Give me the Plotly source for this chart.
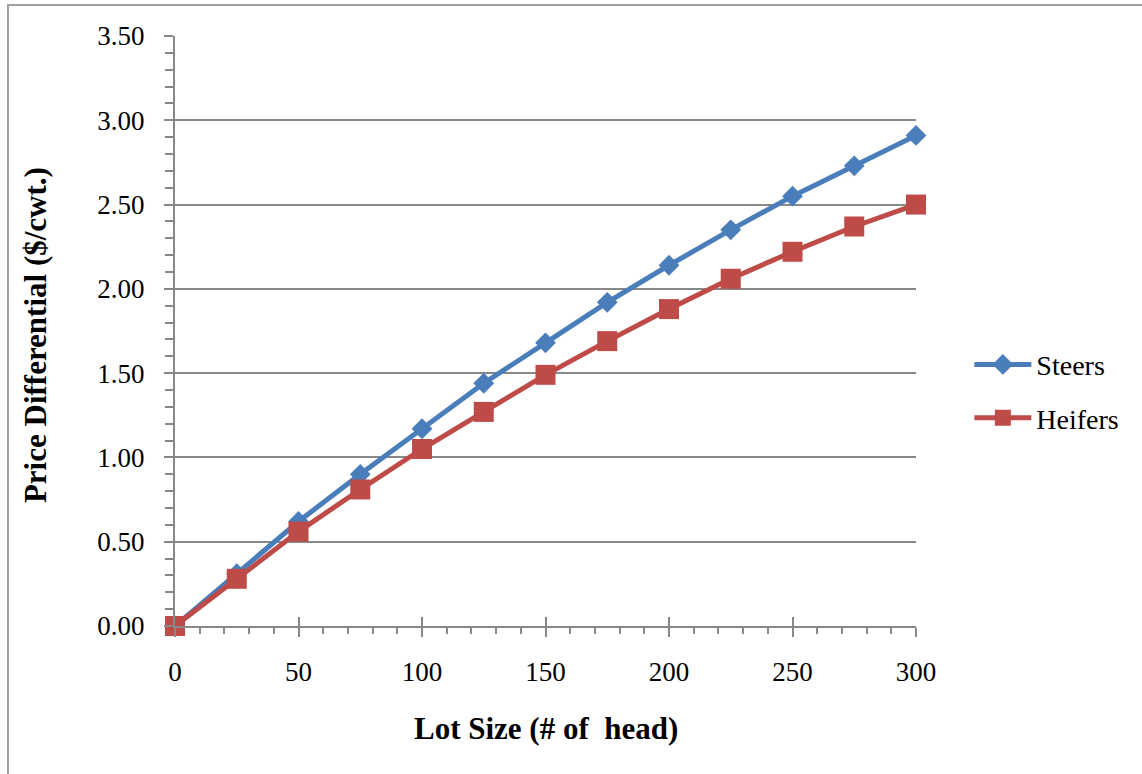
import plotly.graph_objects as go

lot_size = [0, 25, 50, 75, 100, 125, 150, 175, 200, 225, 250, 275, 300]
steers = [0.00, 0.31, 0.62, 0.90, 1.17, 1.44, 1.68, 1.92, 2.14, 2.35, 2.55, 2.73, 2.91]
heifers = [0.00, 0.28, 0.56, 0.81, 1.05, 1.27, 1.49, 1.69, 1.88, 2.06, 2.22, 2.37, 2.50]
x_ticks = [0, 50, 100, 150, 200, 250, 300]

FONT = "Liberation Serif"
GRID = "#888888"

fig = go.Figure()
fig.add_trace(go.Scatter(
    x=lot_size, y=steers, name="Steers", mode="lines+markers", legendgroup="a",
    line=dict(color="#4A7EBB", width=5),
    marker=dict(symbol="diamond", size=16, color="#4A7EBB"),
    cliponaxis=False,
))
fig.add_trace(go.Scatter(
    x=lot_size, y=heifers, name="Heifers", mode="lines+markers", legendgroup="b",
    line=dict(color="#BE4B48", width=5),
    marker=dict(symbol="square", size=20, color="#BE4B48"),
    cliponaxis=False,
))
# invisible trace on overlay axis for crossing x ticks
fig.add_trace(go.Scatter(x=[0, 300], y=[0, 0], xaxis="x2", mode="lines",
                         line=dict(width=0), showlegend=False, hoverinfo="skip"))

fig.update_layout(
    width=1142, height=774,
    margin=dict(l=175, r=226, t=36, b=148),
    plot_bgcolor="white", paper_bgcolor="white",
    font=dict(family=FONT, size=27, color="black"),
    showlegend=True,
    legend=dict(x=1.072, y=0.398, xanchor="left", yanchor="middle",
                font=dict(family=FONT, size=28, color="black"),
                tracegroupgap=14, itemwidth=57, bgcolor="rgba(0,0,0,0)"),
    xaxis=dict(range=[0, 300], tickvals=x_ticks,
               showgrid=False, showline=True, linecolor=GRID, linewidth=2,
               ticks="outside", ticklen=9, tickwidth=2, tickcolor=GRID,
               ticklabelstandoff=12, zeroline=False,
               minor=dict(dtick=10, ticks="outside", ticklen=6, tickwidth=2,
                          tickcolor=GRID, showgrid=False),
               tickfont=dict(family=FONT, size=27)),
    xaxis2=dict(range=[0, 300], overlaying="x", side="bottom", anchor="y",
                tickvals=x_ticks, showticklabels=False,
                ticks="inside", ticklen=9, tickwidth=2, tickcolor=GRID,
                showgrid=False, showline=False, zeroline=False),
    yaxis=dict(range=[0, 3.5], dtick=0.5, tickformat=".2f",
               showgrid=True, gridcolor=GRID, gridwidth=1.5,
               showline=True, linecolor=GRID, linewidth=2,
               ticks="outside", ticklen=9, tickwidth=2, tickcolor=GRID,
               ticklabelstandoff=14, zeroline=False,
               minor=dict(dtick=0.1, ticks="outside", ticklen=8, tickwidth=2,
                          tickcolor=GRID, showgrid=False),
               tickfont=dict(family=FONT, size=27)),
    annotations=[
        dict(text="<b>Lot Size (# of  head)</b>", xref="paper", yref="paper",
             x=0.501, y=-0.173, xanchor="center", yanchor="middle",
             showarrow=False, font=dict(family=FONT, size=31)),
        dict(text="<b>Price Differential ($/cwt.)</b>", xref="paper", yref="paper",
             x=-0.189, y=0.493, xanchor="center", yanchor="middle", textangle=-90,
             showarrow=False, font=dict(family=FONT, size=31)),
    ],
    shapes=[dict(type="rect", xref="paper", yref="paper",
                 x0=-0.2254, y0=-0.5, x1=1.5, y1=1.0525,
                 line=dict(color="#A0A0A0", width=2), fillcolor="rgba(0,0,0,0)",
                 layer="below")],
)

fig.write_html("out.html")
